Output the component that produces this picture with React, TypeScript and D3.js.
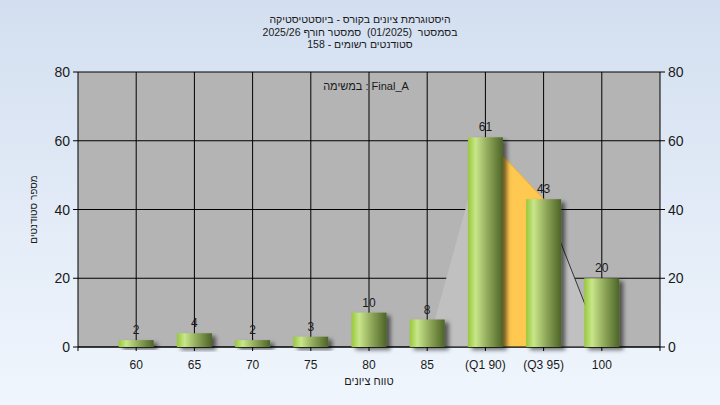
import React from "react";
import * as d3 from "d3";

const categories = ["60", "65", "70", "75", "80", "85", "(Q1 90)", "(Q3 95)", "100"];
const counts = [2, 4, 2, 3, 10, 8, 61, 43, 20];
const yTicks = [0, 20, 40, 60, 80];
const titleLines = [
  "היסטוגרמת ציונים בקורס - ביוסטטיסטיקה",
  "בסמסטר  (01/2025)  סמסטר חורף 2025/26",
  "סטודנטים רשומים - 158",
];
const legendText = "במשימה : Final_A";
const xLabel = "טווח ציונים";
const yLabel = "מספר סטודנטים";
// quartile area overlay
const areaCats = ["85", "(Q1 90)", "(Q3 95)", "100"];
const areaVals = [0, 61, 43, 0];
const areaFills = ["#c0c0c0", "#ffc850", "#c0c0c0"];
const areaStrokes = ["none", "#f0b030", "#333333"];

const W = 720;
const H = 405;
const L = 78;
const R = 660;
const T = 72;
const B = 347;
const FAMILY = "'Liberation Sans', Arial, sans-serif";

export default function App() {
  const x = d3.scalePoint<string>().domain(categories).range([L, R]).padding(1);
  const y = d3.scaleLinear().domain([0, 80]).range([B, T]);
  const bw = 35;

  const segs = areaVals.slice(0, -1).map((v, i) => {
    const pts: [number, number][] = [
      [x(areaCats[i])!, y(v)],
      [x(areaCats[i + 1])!, y(areaVals[i + 1])],
    ];
    const area = d3
      .area<[number, number]>()
      .x((d) => d[0])
      .y0(y(0))
      .y1((d) => d[1]);
    const line = d3.line<[number, number]>().x((d) => d[0]).y((d) => d[1]);
    return { a: area(pts)!, l: line(pts)!, fill: areaFills[i], stroke: areaStrokes[i] };
  });

  return (
    <svg width={W} height={H} style={{ position: "absolute", left: 0, top: 0 }} fontFamily={FAMILY}>
      <defs>
        <linearGradient id="bg" x1="0" y1="0" x2="0" y2="1">
          <stop offset="0" stopColor="#d3dff0" />
          <stop offset="1" stopColor="#f0f6fd" />
        </linearGradient>
        <linearGradient id="bar" x1="0" y1="0" x2="1" y2="0">
          <stop offset="0" stopColor="#98c83a" />
          <stop offset="0.22" stopColor="#c8e68a" />
          <stop offset="0.55" stopColor="#93ab5c" />
          <stop offset="1" stopColor="#4c6426" />
        </linearGradient>
        <filter id="sh" x="-30%" y="-30%" width="160%" height="160%">
          <feDropShadow dx="4" dy="3" stdDeviation="2" floodColor="#000" floodOpacity="0.55" />
        </filter>
      </defs>
      <rect x={0} y={0} width={W} height={H} fill="url(#bg)" />
      <rect x={L} y={T} width={R - L} height={B - T} fill="#b4b4b4" />
      {yTicks.map((t) => (
        <line key={"gy" + t} x1={L} x2={R} y1={y(t)} y2={y(t)} stroke="#000" strokeWidth={1} />
      ))}
      {categories.map((c) => (
        <line key={"gx" + c} x1={x(c)!} x2={x(c)!} y1={T} y2={B} stroke="#000" strokeWidth={1} />
      ))}
      {segs.map((s, i) => (
        <g key={"seg" + i}>
          <path d={s.a} fill={s.fill} />
          {s.stroke !== "none" && <path d={s.l} fill="none" stroke={s.stroke} strokeWidth={1} />}
        </g>
      ))}
      <line x1={L} x2={R} y1={B} y2={B} stroke="#000" />
      <line x1={L} x2={L} y1={T} y2={B + 4} stroke="#000" />
      <line x1={R} x2={R} y1={T} y2={B + 4} stroke="#000" />
      {categories.map((c, i) => (
        <rect
          key={"b" + c}
          x={x(c)! - bw / 2}
          y={y(counts[i])}
          width={bw}
          height={y(0) - y(counts[i])}
          fill="url(#bar)"
          filter="url(#sh)"
        />
      ))}
      {categories.map((c, i) => (
        <text key={"v" + c} x={x(c)!} y={y(counts[i]) - 6} textAnchor="middle" fontSize={12} fill="#1a1a1a">
          {counts[i]}
        </text>
      ))}
      {yTicks.map((t) => (
        <g key={"yt" + t}>
          <line x1={L - 5} x2={L} y1={y(t)} y2={y(t)} stroke="#000" />
          <line x1={R} x2={R + 5} y1={y(t)} y2={y(t)} stroke="#000" />
          <text x={L - 8} y={y(t) + 5} textAnchor="end" fontSize={14} fill="#1a1a1a">
            {t}
          </text>
          <text x={R + 8} y={y(t) + 5} textAnchor="start" fontSize={14} fill="#1a1a1a">
            {t}
          </text>
        </g>
      ))}
      {categories.map((c) => (
        <g key={"xt" + c}>
          <line x1={x(c)!} x2={x(c)!} y1={B} y2={B + 4} stroke="#000" />
          <text x={x(c)!} y={369} textAnchor="middle" fontSize={12} fill="#1a1a1a">
            {c}
          </text>
        </g>
      ))}
      <text x={369} y={385} textAnchor="middle" fontSize={11} fill="#1a1a1a">
        {xLabel}
      </text>
      <text
        transform={`translate(37,${(T + B) / 2}) rotate(-90)`}
        textAnchor="middle"
        fontSize={10}
        fill="#1a1a1a"
      >
        {yLabel}
      </text>
      <text x={366} y={90} textAnchor="middle" fontSize={11} fill="#1a1a1a">
        {legendText}
      </text>
      {titleLines.map((s, i) => (
        <text
          key={"t" + i}
          x={360}
          y={23 + i * 12.5}
          textAnchor="middle"
          fontSize={10.5}
          fill="#1a1a1a"
          style={{ whiteSpace: "pre" }}
        >
          {s}
        </text>
      ))}
    </svg>
  );
}
